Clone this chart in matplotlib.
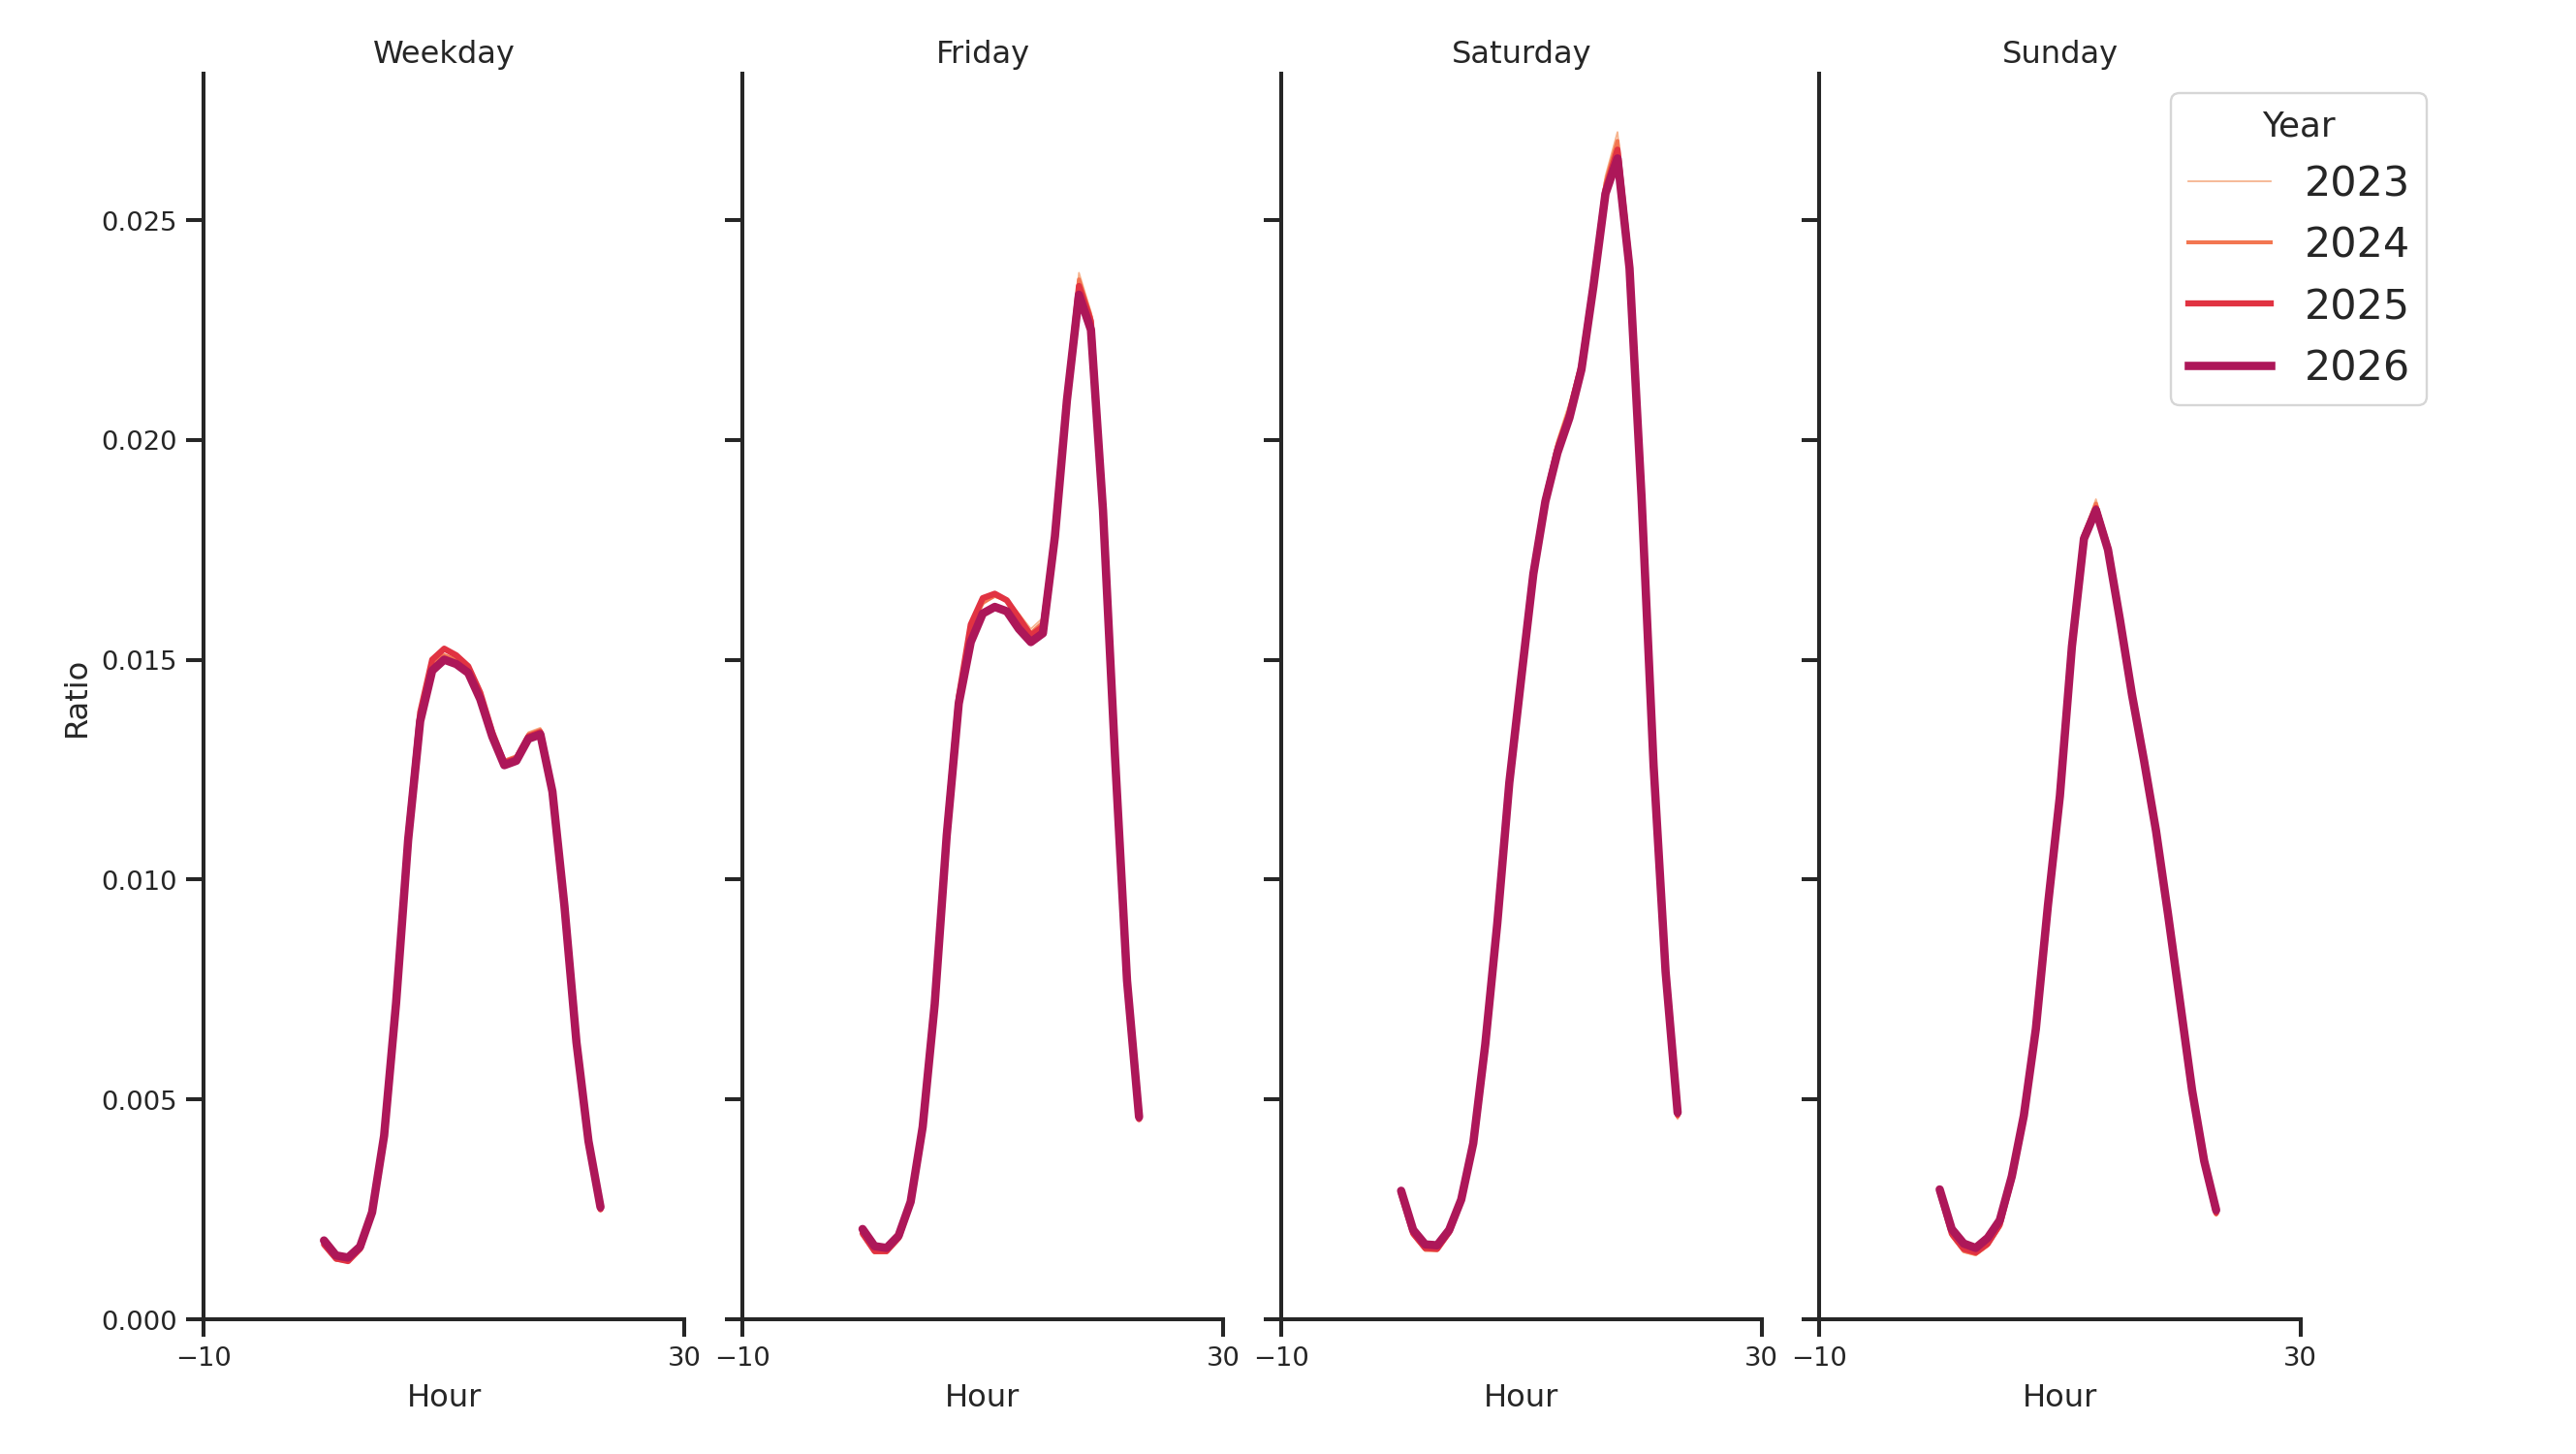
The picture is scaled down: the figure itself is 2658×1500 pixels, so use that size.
import matplotlib
matplotlib.use("Agg")
import matplotlib.pyplot as plt
from matplotlib.lines import Line2D

# data: share of trips per hour, by day type and year
hours = list(range(24))
years = ["2023", "2024", "2025", "2026"]
day_types = ["Weekday", "Friday", "Saturday", "Sunday"]

weekday_2023 = [0.00166, 0.00133, 0.00130, 0.00158, 0.00244, 0.00420, 0.00725, 0.01100, 0.01370, 0.01485, 0.01505, 0.01495,
                0.01475, 0.01420, 0.01330, 0.01270, 0.01280, 0.01335, 0.01345, 0.01200, 0.00940, 0.00630, 0.00405, 0.00245]
weekday_2024 = [0.00168, 0.00135, 0.00132, 0.00160, 0.00245, 0.00420, 0.00725, 0.01100, 0.01375, 0.01490, 0.01510, 0.01500,
                0.01480, 0.01420, 0.01335, 0.01270, 0.01280, 0.01330, 0.01340, 0.01200, 0.00940, 0.00630, 0.00405, 0.00248]
weekday_2025 = [0.00170, 0.00138, 0.00132, 0.00160, 0.00245, 0.00420, 0.00725, 0.01100, 0.01380, 0.01500, 0.01525, 0.01510,
                0.01485, 0.01425, 0.01335, 0.01265, 0.01275, 0.01325, 0.01335, 0.01200, 0.00940, 0.00630, 0.00405, 0.00250]
weekday_2026 = [0.00179, 0.00145, 0.00140, 0.00165, 0.00243, 0.00417, 0.00720, 0.01090, 0.01360, 0.01475, 0.01500, 0.01490,
                0.01470, 0.01410, 0.01325, 0.01260, 0.01270, 0.01320, 0.01330, 0.01200, 0.00940, 0.00630, 0.00405, 0.00255]

friday_2023 = [0.00190, 0.00150, 0.00150, 0.00180, 0.00265, 0.00440, 0.00720, 0.01110, 0.01405, 0.01565, 0.01625, 0.01645,
               0.01640, 0.01605, 0.01570, 0.01595, 0.01790, 0.02110, 0.02380, 0.02290, 0.01850, 0.01280, 0.00770, 0.00450]
friday_2024 = [0.00192, 0.00152, 0.00152, 0.00182, 0.00265, 0.00440, 0.00720, 0.01110, 0.01410, 0.01570, 0.01630, 0.01645,
               0.01635, 0.01600, 0.01560, 0.01585, 0.01785, 0.02100, 0.02365, 0.02280, 0.01845, 0.01280, 0.00770, 0.00455]
friday_2025 = [0.00195, 0.00155, 0.00155, 0.00185, 0.00265, 0.00440, 0.00720, 0.01110, 0.01415, 0.01580, 0.01640, 0.01650,
               0.01635, 0.01595, 0.01555, 0.01575, 0.01780, 0.02090, 0.02350, 0.02270, 0.01840, 0.01280, 0.00770, 0.00455]
friday_2026 = [0.00205, 0.00166, 0.00162, 0.00190, 0.00267, 0.00437, 0.00716, 0.01100, 0.01400, 0.01540, 0.01605, 0.01620,
               0.01610, 0.01570, 0.01540, 0.01560, 0.01780, 0.02090, 0.02330, 0.02250, 0.01840, 0.01280, 0.00770, 0.00460]

saturday_2023 = [0.00285, 0.00190, 0.00155, 0.00155, 0.00195, 0.00270, 0.00400, 0.00625, 0.00900, 0.01220, 0.01470, 0.01710,
                 0.01880, 0.02000, 0.02085, 0.02185, 0.02370, 0.02600, 0.02700, 0.02420, 0.01880, 0.01260, 0.00790, 0.00455]
saturday_2024 = [0.00285, 0.00192, 0.00158, 0.00157, 0.00196, 0.00270, 0.00400, 0.00625, 0.00900, 0.01220, 0.01465, 0.01705,
                 0.01870, 0.01990, 0.02070, 0.02175, 0.02360, 0.02585, 0.02680, 0.02410, 0.01875, 0.01260, 0.00790, 0.00460]
saturday_2025 = [0.00285, 0.00195, 0.00162, 0.00160, 0.00198, 0.00270, 0.00400, 0.00625, 0.00900, 0.01220, 0.01465, 0.01700,
                 0.01865, 0.01980, 0.02060, 0.02170, 0.02355, 0.02570, 0.02660, 0.02400, 0.01870, 0.01260, 0.00790, 0.00465]
saturday_2026 = [0.00292, 0.00203, 0.00170, 0.00168, 0.00203, 0.00272, 0.00400, 0.00625, 0.00900, 0.01220, 0.01460, 0.01695,
                 0.01860, 0.01970, 0.02050, 0.02160, 0.02350, 0.02560, 0.02640, 0.02390, 0.01870, 0.01260, 0.00790, 0.00470]

sunday_2023 = [0.00290, 0.00188, 0.00152, 0.00145, 0.00165, 0.00208, 0.00312, 0.00458, 0.00660, 0.00940, 0.01190, 0.01540,
               0.01790, 0.01865, 0.01765, 0.01600, 0.01425, 0.01275, 0.01110, 0.00920, 0.00720, 0.00520, 0.00360, 0.00235]
sunday_2024 = [0.00290, 0.00190, 0.00155, 0.00148, 0.00168, 0.00210, 0.00315, 0.00460, 0.00660, 0.00940, 0.01190, 0.01535,
               0.01785, 0.01855, 0.01760, 0.01595, 0.01420, 0.01270, 0.01110, 0.00920, 0.00720, 0.00520, 0.00360, 0.00238]
sunday_2025 = [0.00290, 0.00195, 0.00160, 0.00152, 0.00172, 0.00215, 0.00320, 0.00460, 0.00660, 0.00940, 0.01190, 0.01535,
               0.01780, 0.01845, 0.01755, 0.01590, 0.01420, 0.01270, 0.01110, 0.00920, 0.00720, 0.00520, 0.00360, 0.00242]
sunday_2026 = [0.00295, 0.00205, 0.00172, 0.00162, 0.00185, 0.00225, 0.00325, 0.00463, 0.00660, 0.00940, 0.01190, 0.01530,
               0.01775, 0.01840, 0.01750, 0.01590, 0.01420, 0.01270, 0.01110, 0.00920, 0.00720, 0.00520, 0.00360, 0.00248]

series = {
    "Weekday": [weekday_2023, weekday_2024, weekday_2025, weekday_2026],
    "Friday": [friday_2023, friday_2024, friday_2025, friday_2026],
    "Saturday": [saturday_2023, saturday_2024, saturday_2025, saturday_2026],
    "Sunday": [sunday_2023, sunday_2024, sunday_2025, sunday_2026],
}

colors = ["#f6b48f", "#f37651", "#e13342", "#ad1759"]
widths = [0.75, 1.7, 2.65, 3.6]
ink = "#262626"

plt.rcParams["font.family"] = ["DejaVu Sans"]
plt.rcParams["text.color"] = ink
plt.rcParams["axes.labelcolor"] = ink
plt.rcParams["xtick.color"] = ink
plt.rcParams["ytick.color"] = ink

fig, axes = plt.subplots(1, 4, sharey=True, figsize=(15.5, 8.75), dpi=171.5)
fig.subplots_adjust(left=0.0791, right=0.8929, bottom=0.0927, top=0.949, wspace=0.12)

for ax, day in zip(axes, day_types):
    for vals, c, lw in zip(series[day], colors, widths):
        ax.plot(hours, vals, color=c, lw=lw, solid_capstyle="round", solid_joinstyle="round")
    ax.set_xlim(-10, 30)
    ax.set_ylim(0, 0.02833)
    ax.set_xticks([-10, 30])
    ax.set_yticks([0, 0.005, 0.01, 0.015, 0.02, 0.025])
    ax.set_title(day, fontsize=13.5, pad=5)
    ax.set_xlabel("Hour", fontsize=13.5, labelpad=5)
    ax.spines["top"].set_visible(False)
    ax.spines["right"].set_visible(False)
    for s in ("left", "bottom"):
        ax.spines[s].set_linewidth(1.7)
        ax.spines[s].set_color(ink)
    ax.tick_params(width=1.7, length=7.5, pad=4, labelsize=11.5)

axes[0].set_yticklabels(["0.000", "0.005", "0.010", "0.015", "0.020", "0.025"])
axes[0].set_ylabel("Ratio", fontsize=13.5)

handles = [Line2D([], [], color=c, lw=lw) for c, lw in zip(colors, widths)]
leg = fig.legend(handles, years, title="Year", loc="upper right",
                 bbox_to_anchor=(0.942, 0.9356), borderaxespad=0,
                 fontsize=18, title_fontsize=15, frameon=True)
leg.get_frame().set_edgecolor("#cccccc")

fig.savefig("out.png", dpi=171.5)
